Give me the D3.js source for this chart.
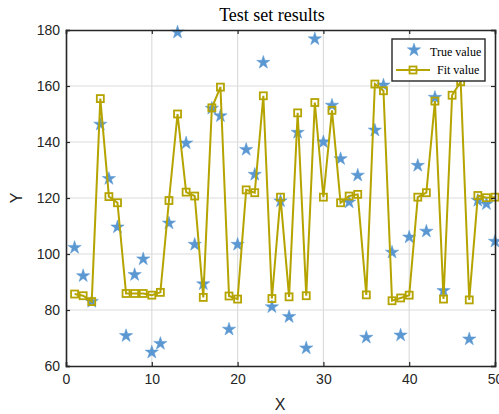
<!DOCTYPE html>
<html><head><meta charset="utf-8">
<script src="https://cdn.jsdelivr.net/npm/d3@7"></script>
<style>body{margin:0;background:#fff}svg{display:block}</style>
</head><body><svg id="c" width="499" height="414"></svg>
<script>
const xIndex = d3.range(1, 51);
const trueValues = [102.3,92.2,83.0,146.3,126.9,109.6,70.8,92.6,98.2,64.9,
  68.0,111.0,179.2,139.6,103.4,89.3,152.0,149.3,73.1,103.4,
  137.3,128.4,168.4,81.1,118.9,77.6,143.4,66.4,176.8,140.0,
  153.1,134.0,118.5,128.1,70.2,144.2,160.3,100.6,71.0,106.0,
  131.6,108.1,155.9,86.9,165.0,170.0,69.6,119.1,117.9,104.5];
const fitValues = [85.7,85.1,83.0,155.5,120.5,118.3,85.9,85.9,85.9,85.3,
  86.3,119.1,150.0,122.1,120.7,84.5,152.2,159.6,85.0,83.9,
  122.9,121.9,156.5,84.1,120.3,84.7,150.4,85.1,154.1,120.3,
  151.3,118.3,120.7,121.3,85.4,160.7,158.3,83.3,84.3,85.3,
  120.3,121.9,154.6,83.9,156.7,161.5,83.6,120.9,120.1,120.3];
const xTicks = [0,10,20,30,40,50];
const yTicks = [60,80,100,120,140,160,180];

const svg = d3.select("#c");
const L = 66, R = 495, T = 30, B = 366;
const x = d3.scaleLinear().domain([0,50]).range([L,R]);
const y = d3.scaleLinear().domain([60,180]).range([B,T]);
const axisCol = "#262626";
const starCol = "#5b98d2";
const lineCol = "#b5a400";

// grid
const g = svg.append("g");
g.selectAll(".gx").data(xTicks.slice(1,-1)).join("line")
  .attr("x1",d=>x(d)).attr("x2",d=>x(d)).attr("y1",T).attr("y2",B)
  .attr("stroke","#dcdcdc").attr("stroke-width",1.2);
g.selectAll(".gy").data(yTicks.slice(1,-1)).join("line")
  .attr("y1",d=>y(d)).attr("y2",d=>y(d)).attr("x1",L).attr("x2",R)
  .attr("stroke","#dcdcdc").attr("stroke-width",1.2);

// stars
const star = d3.symbol().type(d3.symbolStar).size(55);
svg.append("g").selectAll("path").data(xIndex).join("path")
  .attr("d", star)
  .attr("transform",(d,i)=>`translate(${x(d)},${y(trueValues[i])})`)
  .attr("fill",starCol).attr("stroke",starCol).attr("stroke-width",0.5);

// fit line
const line = d3.line().x((d,i)=>x(xIndex[i])).y(d=>y(d));
svg.append("path").datum(fitValues).attr("d",line)
  .attr("fill","none").attr("stroke",lineCol).attr("stroke-width",2);
svg.append("g").selectAll("rect").data(fitValues).join("rect")
  .attr("x",(d,i)=>x(xIndex[i])-3.5).attr("y",d=>y(d)-3.5)
  .attr("width",7).attr("height",7)
  .attr("fill","none").attr("stroke",lineCol).attr("stroke-width",1.8);

// axes
const ax = d3.axisBottom(x).tickValues(xTicks).tickSize(-4).tickPadding(8);
svg.append("g").attr("transform",`translate(0,${B})`).call(ax);
const axTop = d3.axisTop(x).tickValues(xTicks).tickSize(-4).tickFormat("");
svg.append("g").attr("transform",`translate(0,${T})`).call(axTop);
const ay = d3.axisLeft(y).tickValues(yTicks).tickSize(-4).tickPadding(6);
svg.append("g").attr("transform",`translate(${L},0)`).call(ay);
const ayR = d3.axisRight(y).tickValues(yTicks).tickSize(-4).tickFormat("");
svg.append("g").attr("transform",`translate(${R},0)`).call(ayR);
svg.selectAll(".domain").attr("stroke",axisCol).attr("stroke-width",1.6);
svg.selectAll(".tick line").attr("stroke",axisCol).attr("stroke-width",1.2);
svg.selectAll(".tick text").attr("fill",axisCol)
  .style("font-family","Liberation Sans, Arial, sans-serif").style("font-size","14px");

// labels
svg.append("text").attr("x",272).attr("y",21).attr("text-anchor","middle")
  .style("font-family","Liberation Serif, Times New Roman, serif").style("font-size","18px")
  .attr("fill","#000").text("Test set results");
svg.append("text").attr("x",280).attr("y",410).attr("text-anchor","middle")
  .style("font-family","Liberation Sans, Arial, sans-serif").style("font-size","16px")
  .attr("fill",axisCol).text("X");
svg.append("text").attr("transform","translate(22,198) rotate(-90)").attr("text-anchor","middle")
  .style("font-family","Liberation Sans, Arial, sans-serif").style("font-size","16px")
  .attr("fill",axisCol).text("Y");

// legend
const lg = svg.append("g");
lg.append("rect").attr("x",392).attr("y",39).attr("width",93).attr("height",42)
  .attr("fill","#fff").attr("stroke",axisCol).attr("stroke-width",1.4);
lg.append("path").attr("d",star).attr("transform","translate(414,50)")
  .attr("fill",starCol).attr("stroke",starCol).attr("stroke-width",0.5);
lg.append("line").attr("x1",396).attr("x2",430).attr("y1",70).attr("y2",70)
  .attr("stroke",lineCol).attr("stroke-width",2);
lg.append("rect").attr("x",409.5).attr("y",66.5).attr("width",7).attr("height",7)
  .attr("fill","none").attr("stroke",lineCol).attr("stroke-width",1.8);
lg.append("text").attr("x",430).attr("y",56)
  .style("font-family","Liberation Serif, Times New Roman, serif").style("font-size","12px")
  .attr("fill","#000").text("True value");
lg.append("text").attr("x",437).attr("y",74)
  .style("font-family","Liberation Serif, Times New Roman, serif").style("font-size","12px")
  .attr("fill","#000").text("Fit value");
</script></body></html>
